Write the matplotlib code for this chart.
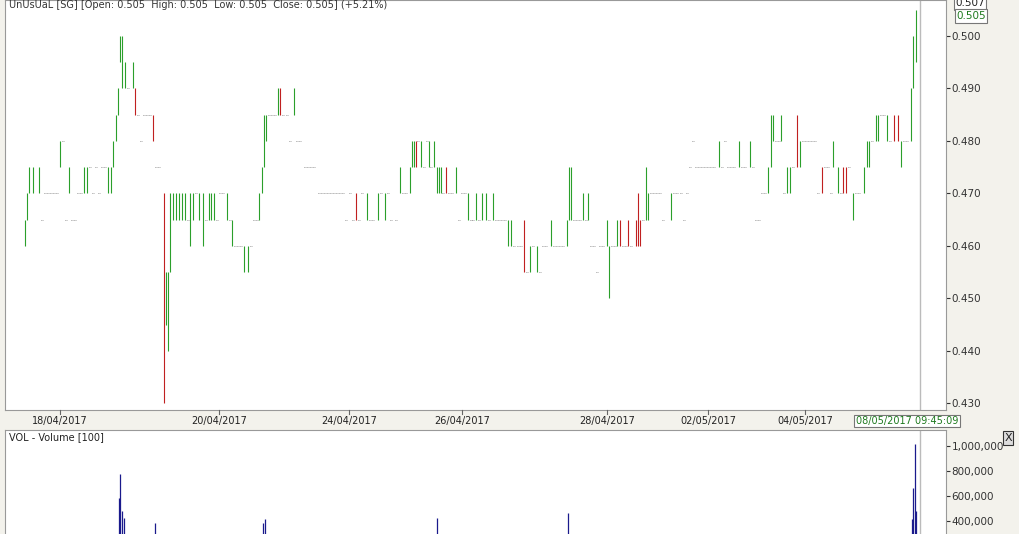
import matplotlib
matplotlib.use("Agg")
import matplotlib.pyplot as plt

TABLE = """
25 .460 .465 g
27 .465 .470 g
29 .470 .475 g
33 .470 .475 g
39 .470 .475 g
42 .465 .465 k
45 .470 .470 k
48 .470 .470 k
51 .470 .470 k
54 .470 .470 k
57 .470 .470 k
60 .475 .480 g
63 .480 .480 k
66 .465 .465 k
69 .470 .475 g
72 .465 .465 k
75 .465 .465 k
78 .470 .470 k
81 .470 .470 k
84 .470 .475 g
87 .470 .475 g
90 .475 .475 k
93 .470 .470 k
96 .475 .475 k
99 .470 .470 k
102 .475 .475 k
105 .475 .475 k
108 .470 .475 g
111 .470 .475 g
113 .475 .480 g
116 .480 .485 g
118 .485 .490 g
120 .495 .500 g
122 .490 .500 g
125 .490 .495 g
128 .490 .490 k
133 .490 .495 g
135 .485 .490 r
138 .485 .485 k
141 .480 .480 k
144 .485 .485 k
147 .485 .485 k
150 .485 .485 k
153 .480 .485 r
156 .475 .475 k
159 .475 .475 k
164 .430 .470 r
166 .445 .455 g
168 .440 .455 g
170 .455 .470 g
173 .465 .470 g
176 .465 .470 g
179 .465 .470 g
182 .465 .470 g
185 .465 .470 g
188 .465 .465 k
190 .460 .470 g
193 .465 .470 g
196 .470 .470 k
199 .465 .470 g
203 .460 .470 g
206 .465 .465 k
209 .465 .470 g
211 .465 .470 g
214 .465 .470 g
217 .465 .465 k
220 .470 .470 k
223 .470 .470 k
227 .465 .470 g
230 .465 .465 k
232 .460 .465 g
235 .460 .460 k
238 .460 .460 k
241 .460 .460 k
244 .455 .460 g
248 .455 .460 g
251 .460 .460 k
254 .465 .465 k
257 .465 .465 k
259 .465 .470 g
262 .470 .475 g
264 .475 .485 g
266 .480 .485 g
269 .485 .485 k
272 .485 .485 k
275 .485 .485 k
278 .485 .490 g
280 .485 .490 r
283 .485 .485 k
287 .485 .485 k
290 .480 .480 k
294 .485 .490 g
297 .480 .480 k
300 .480 .480 k
305 .475 .475 k
308 .475 .475 k
311 .475 .475 k
314 .475 .475 k
319 .470 .470 k
322 .470 .470 k
325 .470 .470 k
328 .470 .470 k
331 .470 .470 k
334 .470 .470 k
337 .470 .470 k
340 .470 .470 k
343 .470 .470 k
346 .465 .465 k
350 .470 .470 k
353 .465 .465 k
356 .465 .470 r
359 .465 .465 k
362 .470 .470 k
367 .465 .470 g
370 .465 .465 k
373 .465 .465 k
378 .465 .470 g
381 .470 .470 k
385 .465 .470 g
388 .470 .470 k
391 .465 .465 k
396 .465 .465 k
400 .470 .475 g
403 .470 .470 k
406 .470 .470 k
410 .470 .475 g
412 .475 .480 g
414 .475 .480 g
416 .475 .480 r
418 .480 .480 k
421 .475 .480 g
424 .475 .475 k
427 .480 .480 k
429 .475 .480 g
431 .475 .475 k
434 .475 .480 g
437 .470 .475 g
439 .470 .475 g
441 .470 .475 g
443 .470 .470 k
446 .470 .475 r
449 .470 .470 k
452 .470 .470 k
456 .470 .475 g
459 .465 .465 k
462 .470 .470 k
465 .470 .470 k
468 .465 .470 g
471 .465 .465 k
473 .465 .465 k
476 .465 .470 g
479 .465 .465 k
482 .465 .470 g
486 .465 .470 g
489 .465 .465 k
493 .465 .470 g
496 .465 .465 k
499 .465 .465 k
502 .465 .465 k
505 .465 .465 k
508 .460 .465 g
511 .460 .465 g
514 .460 .460 k
518 .460 .460 k
521 .460 .460 k
524 .455 .465 r
527 .455 .455 k
530 .455 .460 g
533 .460 .460 k
537 .455 .460 g
540 .455 .455 k
543 .460 .460 k
546 .460 .460 k
551 .460 .465 g
554 .460 .460 k
557 .460 .460 k
560 .460 .460 k
563 .460 .460 k
567 .460 .465 g
569 .465 .475 g
571 .465 .475 g
574 .465 .465 k
577 .465 .465 k
580 .465 .465 k
583 .465 .470 g
586 .465 .465 k
588 .465 .470 g
591 .460 .460 k
594 .460 .460 k
597 .455 .455 k
600 .460 .460 k
603 .460 .460 k
607 .460 .465 g
609 .450 .460 g
612 .460 .460 k
615 .460 .460 k
617 .460 .465 g
620 .460 .465 r
623 .460 .460 k
626 .460 .460 k
628 .460 .465 r
631 .460 .460 k
636 .460 .465 r
638 .460 .470 r
640 .460 .465 r
643 .465 .465 k
646 .465 .475 g
648 .465 .470 g
651 .470 .470 k
654 .470 .470 k
657 .470 .470 k
660 .470 .470 k
663 .465 .465 k
671 .465 .470 g
674 .470 .470 k
677 .470 .470 k
681 .470 .470 k
684 .465 .465 k
687 .470 .470 k
690 .475 .475 k
693 .480 .480 k
696 .475 .475 k
699 .475 .475 k
702 .475 .475 k
705 .475 .475 k
708 .475 .475 k
711 .475 .475 k
714 .475 .475 k
719 .475 .480 g
722 .475 .475 k
725 .480 .480 k
728 .475 .475 k
731 .475 .475 k
734 .475 .475 k
739 .475 .480 g
742 .475 .475 k
745 .475 .475 k
750 .475 .480 g
753 .475 .475 k
756 .465 .465 k
759 .465 .465 k
762 .470 .470 k
765 .470 .470 k
768 .470 .475 g
771 .475 .485 g
773 .480 .485 g
776 .480 .480 k
779 .480 .480 k
781 .480 .485 g
784 .470 .470 k
787 .470 .475 g
790 .470 .475 g
793 .475 .475 k
797 .475 .485 r
800 .475 .480 g
803 .480 .480 k
806 .480 .480 k
809 .480 .480 k
812 .480 .480 k
815 .480 .480 k
818 .470 .470 k
822 .470 .475 r
825 .475 .475 k
828 .475 .475 k
831 .470 .470 k
833 .475 .480 g
838 .470 .475 g
841 .470 .470 k
843 .470 .475 r
846 .470 .475 r
849 .475 .475 k
853 .465 .470 g
856 .470 .470 k
859 .470 .470 k
864 .470 .475 g
867 .475 .480 g
869 .475 .480 g
872 .480 .480 k
876 .480 .485 g
878 .480 .485 g
881 .485 .485 k
884 .485 .485 k
887 .480 .485 g
890 .480 .480 k
894 .480 .485 r
898 .480 .485 r
901 .475 .480 g
904 .480 .480 k
907 .480 .480 k
911 .480 .490 g
913 .490 .500 g
916 .495 .505 g
"""
rows = [r.split() for r in TABLE.strip().splitlines()]
t = [float(r[0]) for r in rows]
low = [float(r[1]) for r in rows]
high = [float(r[2]) for r in rows]
kind = [r[3] for r in rows]

vol_t = [119, 120, 122, 124, 155, 263, 265, 437, 568, 912, 913, 915, 916]
vol = [580000, 780000, 480000, 420000, 380000, 380000, 410000, 420000, 460000, 410000, 660000, 1020000, 480000]

date_pos = [60, 219, 349, 462, 607, 708, 805]
date_lbl = ["18/04/2017", "20/04/2017", "24/04/2017", "26/04/2017", "28/04/2017", "02/05/2017", "04/05/2017"]
price_ticks = [0.430, 0.440, 0.450, 0.460, 0.470, 0.480, 0.490, 0.500]
vol_ticks = [400000, 600000, 800000, 1000000]

W, H = 1019, 534
BG = "#f3f2ec"
fig = plt.figure(figsize=(W/100, H/100), dpi=100, facecolor=BG)
L, R = 5/W, 946/W
ax = fig.add_axes([L, 1-410/H, R-L, 410/H])
av = fig.add_axes([L, 1-570/H, R-L, 140/H])
for a in (ax, av):
    a.set_facecolor("white")
    for s in a.spines.values():
        s.set_color("#999999")
        s.set_linewidth(0.8)
    a.set_xlim(5, 946)
    a.set_xticks([])
    a.yaxis.tick_right()
    a.tick_params(axis="y", labelsize=7.5, colors="#333333", length=3, pad=1)

ax.set_ylim(0.4287, 0.50687)
ax.set_yticks(price_ticks)
ax.set_yticklabels([f"{v:.3f}" for v in price_ticks])

col = {"g": "#2b9f2b", "r": "#c02020"}
for x, lo, hi, k in zip(t, low, high, kind):
    if k == "k":
        ax.hlines(lo, x-1.2, x+1.2, color="#666666", lw=0.6, linestyles=(0, (1, 1)))
    else:
        ax.vlines(x, lo, hi, color=col[k], lw=0.8)
ax.axvline(920, color="#bbbbbb", lw=1)
av.axvline(920, color="#bbbbbb", lw=1)

av.set_ylim(0, 1133000)
av.set_yticks(vol_ticks)
av.set_yticklabels([f"{v:,}" for v in vol_ticks])
av.vlines(vol_t, 0, vol, color="#1a1a8c", lw=0.9)
av.text(0.004, 0.985, "VOL - Volume [100]", transform=av.transAxes, fontsize=7, va="top", color="#222222")

ax.text(0.004, 1.0, "UnUsUaL [SG] [Open: 0.505  High: 0.505  Low: 0.505  Close: 0.505] (+5.21%)",
        transform=ax.transAxes, fontsize=7, va="top", color="#333333")

for p, lb in zip(date_pos, date_lbl):
    fig.text(p/W, 1-421/H, lb, fontsize=7, ha="center", va="center", color="#222222")
    fig.add_artist(plt.Line2D([p/W, p/W], [1-410/H, 1-414/H], color="#666666", lw=0.8))
fig.text(907/W, 1-421/H, "08/05/2017 09:45:09", fontsize=7, ha="center", va="center", color="#1e7a1e",
         bbox=dict(boxstyle="square,pad=0.15", fc="white", ec="#777777", lw=0.8))
fig.text(970/W, 1-3/H, "0.507", fontsize=7.5, ha="center", va="center", color="#222222",
         bbox=dict(boxstyle="square,pad=0.15", fc="white", ec="#777777", lw=0.8))
fig.text(971/W, 1-16/H, "0.505", fontsize=7.5, ha="center", va="center", color="#1e7a1e",
         bbox=dict(boxstyle="square,pad=0.15", fc="white", ec="#777777", lw=0.8))
fig.text(1008/W, 1-438/H, "X", fontsize=8, ha="center", va="center", color="#222222",
         bbox=dict(boxstyle="square,pad=0.15", fc="#dddddd", ec="#333333", lw=0.8))

fig.savefig("out.png", dpi=100, facecolor=BG)
